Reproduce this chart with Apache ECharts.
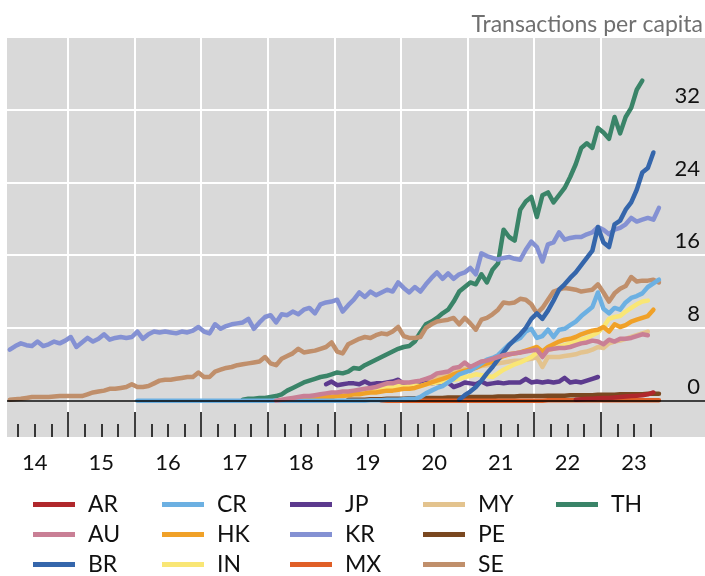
<!DOCTYPE html>
<html>
<head>
<meta charset="utf-8">
<script src="https://cdn.jsdelivr.net/npm/echarts@6/dist/echarts.min.js"></script>
<style>
  html, body { margin: 0; padding: 0; background: #fff; }
  #chart { width: 705px; height: 576px; }
</style>
</head>
<body>
<div id="chart"></div>
<script>
// x is counted in months since Jan 2014 (0 = start of Jan 2014)
const names = ['AR', 'AU', 'BR', 'CR', 'HK', 'IN', 'JP', 'KR', 'MX', 'MY', 'PE', 'SE', 'TH']
const colors = ['#b0282c', '#c97f95', '#3566ab', '#6cb0e2', '#f0a128', '#f9e675', '#5c3a8e',
  '#8491d3', '#e05f27', '#e3c38e', '#7a4820', '#c08f6b', '#3a8468']
// first month of each series
const starts = ['2022-08', '2018-02', '2020-11', '2016-01', '2018-03', '2018-09', '2018-11',
  '2014-02', '2019-09', '2018-07', '2019-03', '2014-02', '2017-08']

const AR = [0.1, 0.15, 0.2, 0.2, 0.25, 0.3, 0.3, 0.35, 0.4, 0.45, 0.5, 0.55, 0.6, 0.7, 0.9]
const AU = [0.0, 0.1, 0.2, 0.3, 0.4, 0.5, 0.5, 0.6, 0.7, 0.8,
  0.9, 0.9, 1.0, 1.0, 1.1, 1.2, 1.3, 1.4, 1.5, 1.7,
  1.9, 1.9, 2.1, 2.0, 2.0, 2.1, 2.2, 2.4, 2.6, 3.0,
  3.1, 3.2, 3.6, 3.7, 4.2, 3.7, 4.0, 4.3, 4.4, 4.6,
  4.8, 5.0, 5.1, 5.2, 5.3, 5.4, 5.5, 5.6, 4.8, 5.6,
  5.7, 5.8, 5.8, 5.9, 6.1, 6.3, 6.4, 6.6, 6.5, 6.2,
  6.7, 6.5, 6.8, 6.8, 6.9, 7.1, 7.3, 7.2]
const BR = [0.1, 0.6, 1.0, 1.5, 2.2, 3.0, 3.7, 4.5, 5.3, 6.1,
  6.7, 7.3, 8.0, 9.0, 9.6, 9.0, 9.9, 11.0, 12.2, 12.8,
  13.5, 14.1, 14.9, 15.7, 16.5, 19.1, 17.4, 16.9, 19.4, 19.8,
  21.0, 21.8, 23.2, 25.1, 25.6, 27.3]
const CR = [0, 0, 0, 0, 0, 0, 0, 0, 0, 0,
  0, 0, 0, 0, 0, 0, 0, 0, 0, 0,
  0, 0, 0, 0, 0, 0, 0, 0, 0, 0,
  0, 0, 0, 0, 0, 0, 0, 0, 0, 0,
  0, 0, 0.05, 0.05, 0.05, 0.1, 0.1,
  0.1, 0.15, 0.2, 0.2,
  0.4, 0.8, 1.1, 1.4, 1.6, 2.0, 2.4, 2.9, 3.1, 3.3,
  3.7, 4.1, 4.5, 4.7, 5.0, 5.6, 6.2, 6.6, 6.9, 7.6,
  7.9, 6.9, 7.1, 7.8, 7.0, 7.8, 7.9, 8.3, 8.7, 9.3,
  9.8, 10.3, 11.9, 10.1, 9.6, 10.2, 10.0, 10.8, 11.3, 11.5,
  11.8, 12.5, 12.9, 13.3]
const HK = [0.0, 0.05, 0.1, 0.1, 0.1, 0.2, 0.2, 0.3, 0.4, 0.4,
  0.5, 0.5, 0.6, 0.7, 0.7, 0.8, 0.9, 0.9, 1.0, 1.1,
  1.1, 1.2, 1.3, 1.3, 1.4, 1.6, 1.8, 2.0, 2.2, 2.4,
  2.6, 2.9, 3.1, 3.3, 3.4, 3.6, 3.9, 4.1, 4.3, 4.6,
  4.9, 5.1, 5.2, 5.3, 5.5, 5.7, 5.9, 5.4, 5.9, 6.2,
  6.5, 6.7, 6.8, 7.0, 7.3, 7.5, 7.7, 7.8, 8.1, 7.6,
  8.4, 8.1, 8.3, 8.7, 8.9, 9.1, 9.3, 10.0]
const IN = [0.1, 0.2, 0.3, 0.4, 0.5, 0.6, 0.7, 0.8, 0.9, 1.0,
  1.1, 1.2, 1.3, 1.4, 1.5, 1.6, 1.5, 1.6, 1.7, 1.6,
  1.8, 1.9, 2.0, 2.1, 2.2, 2.3, 2.4, 2.6, 2.7, 2.9,
  2.8, 2.7, 2.6, 3.0, 3.4, 3.7, 4.0, 4.2, 4.5, 4.8,
  5.3, 5.4, 5.6, 5.7, 5.9, 6.1, 6.3, 6.5, 6.7, 6.9,
  7.2, 7.5, 8.1, 9.0, 9.2, 9.3, 9.8, 10.2, 10.6, 10.9,
  11.0]
const JP = [1.8, 2.1, 1.7, 1.8, 1.9, 1.9, 1.8, 2.1, 1.8, 1.9,
  1.9, 2.0, 2.1, 2.3, 1.8, 1.9, 2.0, 1.9, 2.0, 1.9,
  2.0, 2.0, 2.0, 1.5, 1.7, 2.0, 1.9, 1.8, 2.1, 1.8,
  1.9, 2.0, 1.9, 2.0, 2.0, 2.0, 2.4, 2.0, 2.1, 2.0,
  2.1, 2.0, 2.1, 2.5, 2.0, 2.1, 2.0, 2.2, 2.4, 2.6]
const KR = [5.6, 6.0, 6.3, 6.1, 6.0, 6.5, 6.0, 6.2, 6.5, 6.3,
  6.6, 7.0, 5.9, 6.4, 6.9, 6.5, 6.8, 7.3, 6.7, 6.9,
  7.0, 6.9, 7.0, 7.6, 6.8, 7.3, 7.6, 7.5, 7.6, 7.5,
  7.4, 7.6, 7.5, 7.7, 8.1, 7.6, 7.4, 8.4, 7.9, 8.2,
  8.4, 8.5, 8.6, 9.0, 7.9, 8.6, 9.2, 9.4, 8.6, 9.5,
  9.4, 9.8, 9.5, 10.0, 10.2, 9.6, 10.6, 10.8, 10.9, 11.1,
  9.8, 10.5, 11.1, 11.9, 11.4, 12.0, 11.6, 11.9, 12.2, 12.0,
  13.0, 12.4, 11.9, 12.5, 12.0, 12.8, 13.5, 14.1, 13.4, 14.0,
  13.4, 13.9, 14.1, 14.6, 13.9, 16.2, 15.9, 15.7, 15.5, 15.7,
  15.8, 15.6, 15.5, 16.6, 17.5, 16.9, 15.3, 17.2, 17.4, 18.5,
  17.7, 17.9, 18.0, 18.0, 18.3, 18.5, 19.1, 18.8, 18.3, 18.8,
  19.0, 19.4, 20.1, 19.7, 19.9, 20.1, 19.9, 21.2]
const MX = [0, 0, 0, 0, 0, 0, 0, 0, 0, 0,
  0, 0, 0, 0, 0, 0, 0, 0, 0, 0,
  0, 0, 0, 0, 0, 0, 0, 0, 0, 0,
  0.05, 0.05, 0.05, 0.05, 0.05, 0.05, 0.05, 0.05, 0.05, 0.05,
  0.05, 0.05, 0.05, 0.05, 0.05, 0.05, 0.05, 0.05, 0.05, 0.05, 0.05]
const MY = [0.1, 0.2, 0.3, 0.4, 0.5, 0.6, 0.7, 0.8, 0.9, 1.0,
  1.1, 1.2, 1.3, 1.4, 1.5, 1.6, 1.7, 1.8, 1.8, 1.9,
  2.0, 2.1, 2.2, 2.4, 2.6, 2.8, 3.0, 3.2, 3.3, 3.5,
  3.6, 3.7, 3.8, 3.9, 4.0, 4.1, 4.2, 4.3, 4.4, 4.4,
  4.5, 4.6, 4.8, 3.7, 4.8, 4.8, 4.8, 4.9, 5.0, 5.1,
  5.3, 5.4, 5.6, 5.9, 5.8, 6.3, 6.5, 6.6, 6.8, 7.0,
  7.2, 7.4, 7.6]
const PE = [0.1, 0.1, 0.1, 0.1, 0.15, 0.15, 0.15, 0.2, 0.2, 0.2,
  0.2, 0.25, 0.25, 0.25, 0.3, 0.3, 0.3, 0.3, 0.35, 0.35,
  0.35, 0.35, 0.4, 0.4, 0.4, 0.4, 0.4, 0.45, 0.45, 0.45,
  0.45, 0.5, 0.5, 0.5, 0.5, 0.5, 0.55, 0.55, 0.55, 0.55,
  0.6, 0.6, 0.6, 0.6, 0.6, 0.65, 0.65, 0.65, 0.65, 0.7,
  0.7, 0.7, 0.7, 0.7, 0.75, 0.75, 0.75]
const SE = [0.1, 0.15, 0.2, 0.3, 0.4, 0.4, 0.4, 0.4, 0.45, 0.5,
  0.5, 0.5, 0.5, 0.5, 0.7, 0.9, 1.0, 1.1, 1.3, 1.3,
  1.4, 1.5, 1.8, 1.5, 1.5, 1.6, 1.9, 2.2, 2.3, 2.3,
  2.4, 2.5, 2.6, 2.6, 3.1, 2.6, 2.6, 3.2, 3.4, 3.6,
  3.7, 3.9, 4.0, 4.1, 4.2, 4.3, 4.8, 4.1, 3.9, 4.6,
  4.9, 5.2, 5.7, 5.3, 5.4, 5.5, 5.7, 5.9, 6.4, 5.4,
  5.2, 6.2, 6.5, 6.8, 7.0, 6.9, 7.2, 7.4, 7.3, 7.6,
  8.1, 7.1, 6.9, 6.9, 7.0, 8.0, 8.4, 8.7, 8.8, 8.9,
  9.1, 8.4, 9.1, 8.5, 7.8, 8.9, 9.1, 9.5, 10.0, 10.8,
  10.7, 10.8, 11.2, 11.1, 10.6, 9.6, 10.2, 11.1, 12.0, 12.2,
  12.4, 12.3, 12.2, 12.0, 12.1, 12.2, 12.8, 11.9, 10.9, 11.8,
  12.3, 12.6, 13.6, 13.1, 13.2, 13.2, 13.3, 13.0]
const TH = [0.1, 0.2, 0.2, 0.3, 0.3, 0.4, 0.5, 0.7, 1.1, 1.4,
  1.7, 2.0, 2.2, 2.4, 2.6, 2.7, 2.9, 3.1, 3.0, 3.2,
  3.6, 3.5, 3.9, 4.2, 4.5, 4.8, 5.1, 5.4, 5.7, 5.9,
  6.0, 6.5, 7.5, 8.4, 8.7, 9.1, 9.6, 10.0, 10.9, 12.0,
  12.5, 13.0, 12.8, 13.9, 13.0, 14.4, 15.1, 18.8, 18.0, 17.6,
  21.0, 21.9, 22.4, 20.2, 22.6, 22.9, 21.8, 22.6, 23.4, 24.6,
  26.0, 27.8, 28.3, 27.8, 30.0, 29.5, 28.8, 31.2, 29.4, 31.2,
  32.2, 34.2, 35.2]
const values = [AR, AU, BR, CR, HK, IN, JP, KR, MX, MY, PE, SE, TH]

// tick positions in months since Jan 2014
const yearTicks = [12, 24, 36, 48, 60, 72, 84, 96, 108]
const quarterTicks = [3, 6, 9, 15, 18, 21, 27, 30, 33, 39, 42, 45, 51, 54, 57, 63, 66, 69,
  75, 78, 81, 87, 90, 93, 99, 102, 105, 111, 114, 117]
const yearLabelPos = [6, 18, 30, 42, 54, 66, 78, 90, 102, 114]
const yearLabels = ['14', '15', '16', '17', '18', '19', '20', '21', '22', '23']
const yTicks = [0, 8, 16, 24, 32]
const font = 'Lato'

// legend is laid out column by column, 3 rows
const legendCols = [33, 162, 290, 423, 556]
const legendRows = [507, 537, 567]

const chart = echarts.init(document.getElementById('chart'))

const monthOf = s => (Number(s.slice(0, 4)) - 2014) * 12 + Number(s.slice(5, 7)) - 1

const series = names.map((n, i) => {
  const s = monthOf(starts[i])
  return {
    name: n,
    type: 'line',
    data: values[i].map((v, k) => [s + k + 0.5, v]),
    color: colors[i],
    showSymbol: false,
    symbol: 'none',
    lineStyle: { width: 4.5, color: colors[i], join: 'round', cap: 'round' },
    emphasis: { disabled: true },
    animation: false
  }
}).reverse()

// black zero line
series[0].markLine = {
  silent: true,
  symbol: 'none',
  label: { show: false },
  lineStyle: { color: '#000', width: 1.5, type: 'solid' },
  data: [{ yAxis: 0 }]
}

const legends = names.map((n, i) => ({
  data: [n],
  left: legendCols[Math.floor(i / 3)],
  top: legendRows[i % 3] - 14,
  padding: 0,
  icon: 'rect',
  itemWidth: 42,
  itemHeight: 5,
  selectedMode: false,
  textStyle: { fontFamily: font, fontSize: 23, color: '#111', padding: [0, 0, 0, 8] }
}))

const xMin = 1
const xMax = 126.8

chart.setOption({
  animation: false,
  backgroundColor: '#fff',
  title: {
    text: 'Transactions per capita',
    right: -3,
    top: 8,
    textStyle: { fontFamily: font, fontSize: 23, fontWeight: 'normal', color: '#707070' }
  },
  grid: {
    left: 7,
    right: 0,
    top: 37,
    bottom: 139,
    show: true,
    backgroundColor: '#d9d9d9',
    borderWidth: 0
  },
  legend: legends,
  xAxis: [{
    type: 'value',
    min: xMin,
    max: xMax,
    position: 'bottom',
    axisLine: { show: false, onZero: false },
    axisTick: {
      show: true, inside: true, length: 25,
      customValues: yearTicks,
      lineStyle: { color: '#000', width: 1.5 }
    },
    splitLine: {
      show: true,
      lineStyle: { color: '#fff', width: 2 }
    },
    axisLabel: {
      customValues: yearLabelPos,
      formatter: v => yearLabels[yearLabelPos.indexOf(v)],
      fontFamily: font, fontSize: 22, color: '#111',
      margin: 15
    }
  }, {
    type: 'value',
    min: xMin,
    max: xMax,
    position: 'bottom',
    axisLine: { show: false, onZero: false },
    axisTick: {
      show: true, inside: true, length: 13,
      customValues: quarterTicks,
      lineStyle: { color: '#000', width: 1.5 }
    },
    axisLabel: { show: false },
    splitLine: { show: false }
  }],
  yAxis: {
    type: 'value',
    position: 'right',
    min: -4,
    max: 40,
    interval: 4,
    axisLine: { show: false },
    axisTick: { show: false },
    axisLabel: {
      inside: true,
      margin: 5,
      fontFamily: font, fontSize: 22, color: '#111',
      verticalAlign: 'bottom',
      padding: [0, 0, 3, 0],
      formatter: v => (yTicks.indexOf(v) >= 0 ? String(v) : '')
    },
    splitLine: {
      show: true,
      lineStyle: { color: ['rgba(0,0,0,0)', '#fff'], width: 2 }
    }
  },
  series: series
})
</script>
</body>
</html>
